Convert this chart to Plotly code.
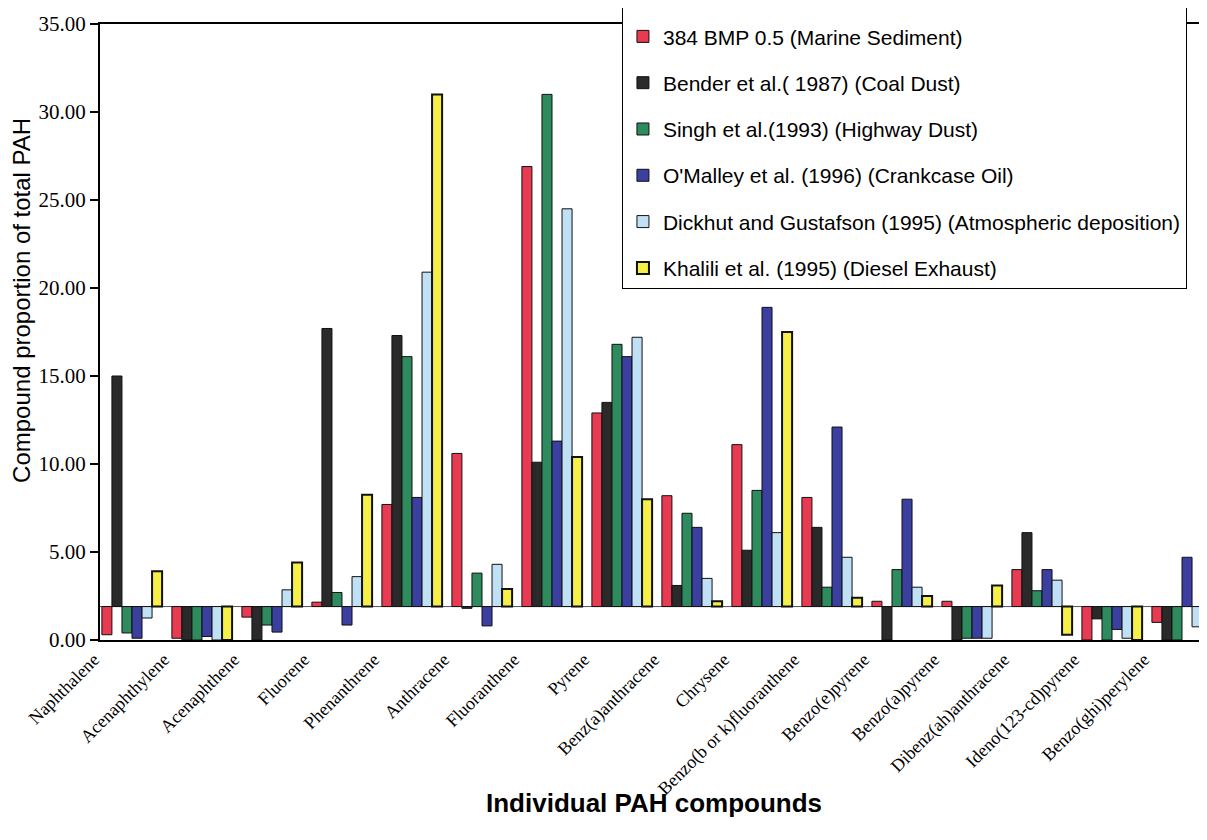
import plotly.graph_objects as go

compounds = [
    "Naphthalene", "Acenaphthylene", "Acenaphthene", "Fluorene", "Phenanthrene",
    "Anthracene", "Fluoranthene", "Pyrene", "Benz(a)anthracene", "Chrysene",
    "Benzo(b or k)fluoranthene", "Benzo(e)pyrene", "Benzo(a)pyrene",
    "Dibenz(ah)anthracene", "Ideno(123-cd)pyrene", "Benzo(ghi)perylene",
]

marine_sediment = [0.3, 0.1, 1.3, 2.15, 7.7, 10.6, 26.9, 12.9, 8.2, 11.1, 8.1, 2.2, 2.2, 4.0, 0.0, 1.0]
coal_dust = [15.0, 0.0, 0.0, 17.7, 17.3, 1.8, 10.1, 13.5, 3.1, 5.1, 6.4, 0.0, 0.0, 6.1, 1.2, 0.0]
highway_dust = [0.4, 0.0, 0.85, 2.7, 16.1, 3.8, 31.0, 16.8, 7.2, 8.5, 3.0, 4.0, 0.1, 2.8, 0.0, 0.0]
crankcase_oil = [0.1, 0.2, 0.45, 0.85, 8.1, 0.8, 11.3, 16.1, 6.4, 18.9, 12.1, 8.0, 0.1, 4.0, 0.6, 4.7]
atmospheric = [1.25, 0.0, 2.85, 3.6, 20.9, 4.3, 24.5, 17.2, 3.5, 6.1, 4.7, 3.0, 0.1, 3.4, 0.1, 0.75]
diesel_exhaust = [3.9, 0.0, 4.4, 8.25, 31.0, 2.9, 10.4, 8.0, 2.2, 17.5, 2.4, 2.5, 3.1, 0.3, 0.0, 0.0]

series = [
    ("384 BMP 0.5 (Marine Sediment)", marine_sediment, "#e83a50"),
    ("Bender et al.( 1987) (Coal Dust)", coal_dust, "#2a2a2a"),
    ("Singh et al.(1993) (Highway Dust)", highway_dust, "#2e8b5e"),
    ("O'Malley et al. (1996) (Crankcase Oil)", crankcase_oil, "#3b3f9f"),
    ("Dickhut and Gustafson (1995) (Atmospheric deposition)", atmospheric, "#c0e0f6"),
    ("Khalili et al. (1995) (Diesel Exhaust)", diesel_exhaust, "#f6ef48"),
]

# the scanned chart draws every bar from a floor at about 1.9, not from zero
BASE = 1.9

fig = go.Figure()
for i, (name, vals, color) in enumerate(series):
    fig.add_trace(
        go.Bar(
            x=compounds,
            y=[v - BASE for v in vals],
            base=BASE,
            name=name,
            legendgroup=str(i),
            marker=dict(
                color=color,
                line=dict(color="#111111", width=2 if i == 5 else 1),
            ),
        )
    )

# thin floor line the bars hang from
fig.add_shape(type="line", xref="paper", x0=0, x1=1, yref="y", y0=BASE, y1=BASE,
              line=dict(color="#555555", width=1), layer="below")

fig.add_annotation(
    text="Compound proportion of total PAH", textangle=-90,
    xref="paper", yref="paper", x=-0.0705, y=0.552, xanchor="center", yanchor="middle",
    showarrow=False,
    font=dict(family="Liberation Sans, Arial", size=24, color="black"),
)
fig.add_annotation(
    text="<b>Individual PAH compounds</b>",
    xref="paper", yref="paper", x=0.5, y=-0.265, xanchor="center", yanchor="middle",
    showarrow=False,
    font=dict(family="Liberation Sans, Arial", size=26, color="black"),
)

# page body has an 8px margin, so the figure is 8px smaller and offset
fig.update_layout(
    width=1199, height=832,
    margin=dict(l=92, r=0, t=16, b=200, autoexpand=False),
    paper_bgcolor="white", plot_bgcolor="white",
    barmode="group", bargap=0.14, bargroupgap=0,
    showlegend=True,
    legend=dict(
        x=0.4715, y=1.029, xanchor="left", yanchor="top",
        bgcolor="white", bordercolor="black", borderwidth=1,
        font=dict(family="Liberation Sans, Arial", size=21, color="black"),
        tracegroupgap=16,
        title=dict(text=" ", font=dict(size=7)),
    ),
    xaxis=dict(
        range=[-0.457, 15.357], automargin=False,
        showline=True, linecolor="black", linewidth=2, mirror=True,
        ticks="", tickangle=-45, ticklabelshift=-38,
        tickfont=dict(family="Liberation Serif, Times New Roman", size=18, color="black"),
        showgrid=False,
    ),
    yaxis=dict(
        range=[0, 35], tickvals=[0, 5, 10, 15, 20, 25, 30, 35], tickformat=".2f",
        automargin=False,
        showline=True, linecolor="black", linewidth=2,
        ticks="outside", ticklen=8, tickwidth=2, tickcolor="black",
        tickfont=dict(family="Liberation Serif, Times New Roman", size=21, color="black"),
        showgrid=False, zeroline=False,
    ),
)

fig.write_html("out.html")
